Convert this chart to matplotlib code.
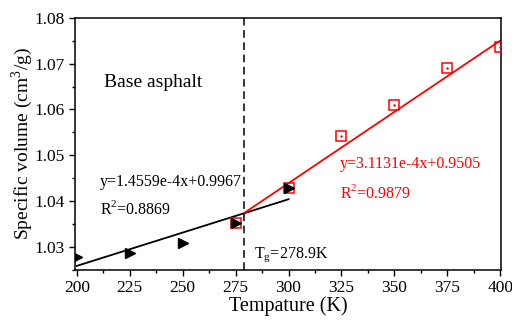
import numpy as np
import matplotlib.pyplot as plt

plt.rcParams['font.family'] = ['Liberation Serif', 'DejaVu Serif']
plt.rcParams['mathtext.fontset'] = 'custom'
plt.rcParams['mathtext.rm'] = 'Liberation Serif'

# data
temp_glass = [200, 225, 250, 275, 300]
vol_glass = [1.0277, 1.0287, 1.0308, 1.0352, 1.0428]
temp_rubber = [275, 300, 325, 350, 375, 400]
vol_rubber = [1.0351, 1.0428, 1.0541, 1.0609, 1.0690, 1.0737]

slope_glass, icpt_glass = 1.4559e-4, 0.9967
slope_rubber, icpt_rubber = 3.1131e-4, 0.9505
tg = 278.9

fig = plt.figure(figsize=(5.12, 3.2), dpi=100)
ax = fig.add_axes([0.146, 0.156, 0.833, 0.788])

# fitted lines
xg = np.array([200, 300])
ax.plot(xg, slope_glass * xg + icpt_glass, color='black', lw=1.3, zorder=2)
xr = np.array([tg, 400])
ax.plot(xr, slope_rubber * xr + icpt_rubber, color='red', lw=1.3, zorder=2)

# points
ax.plot(temp_rubber, vol_rubber, 's', ms=7, mfc='none', mec='red', mew=1.1, zorder=3)
ax.plot(temp_rubber, vol_rubber, '.', ms=1.5, color='red', zorder=3)
ax.plot(temp_glass, vol_glass, '>', ms=6.5, color='black', zorder=4)

ax.axvline(tg, color='black', ls=(0, (5, 3)), lw=1.1)

ax.text(213, 1.0659, 'Base asphalt', fontsize=14, va='center')
ax.text(210.8, 1.0442, 'y=1.4559e-4x+0.9967', fontsize=11.5, va='center')
ax.text(210.8, 1.0382, r'R$^2$=0.8869', fontsize=11.5, va='center')
ax.text(324.4, 1.0480, 'y=3.1131e-4x+0.9505', fontsize=11.5, va='center', color='red')
ax.text(324.4, 1.0418, r'R$^2$=0.9879', fontsize=11.5, va='center', color='red')
ax.text(283.5, 1.0282, r'T$_\mathregular{g}$=278.9K', fontsize=11.5, va='center')

ax.set_xlim(199, 400.5)
ax.set_ylim(1.0249, 1.08)
ax.set_xticks(np.arange(200, 401, 25))
ax.set_xticks(np.arange(212.5, 400, 25), minor=True)
ax.set_yticks([1.03, 1.04, 1.05, 1.06, 1.07, 1.08])
ax.set_yticks(np.arange(1.025, 1.08, 0.01), minor=True)
ax.set_yticklabels(['1.03', '1.04', '1.05', '1.06', '1.07', '1.08'])
ax.tick_params(axis='both', which='major', direction='out', length=4, width=1, labelsize=12.5)
ax.tick_params(axis='both', which='minor', direction='out', length=2.5, width=1)
for s in ax.spines.values():
    s.set_linewidth(1.1)

ax.set_xlabel('Tempature (K)', fontsize=14.5, labelpad=0)
ax.set_ylabel('Specific volume (cm$^3$/g)', fontsize=14, labelpad=-1)

fig.savefig('out.png', dpi=100)
